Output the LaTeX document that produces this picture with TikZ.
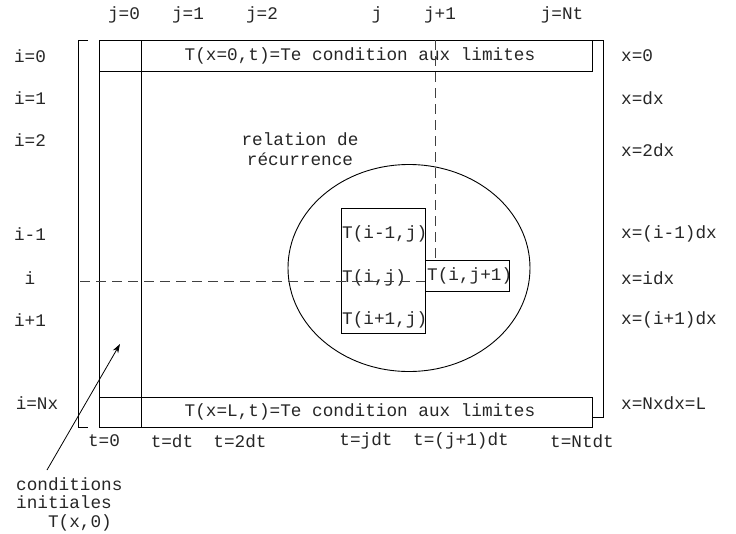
\documentclass[tikz,border=0pt]{standalone}
\usepackage{fontspec}
\setmonofont{Liberation Mono}
\usetikzlibrary{arrows.meta,shapes.geometric}
\begin{document}
\begin{tikzpicture}[x=1pt,y=-1pt,
  lbl/.style={font=\ttfamily\fontsize{17.7}{20.5}\selectfont, inner sep=0pt, text=black!85},
  frame/.style={draw=black, line width=0.9pt},
  cell/.style={frame, inner sep=0pt, anchor=north west},
  guide/.style={draw=black!75, line width=0.9pt, dash pattern=on 10pt off 6pt},
  pointer/.style={draw=black, line width=0.8pt, -{Stealth[length=9pt,width=6pt]}}]
\useasboundingbox (0,0) rectangle (736,533);

% outer brackets of the domain
\draw[frame] (88,40) -- (78,40) -- (78,427) -- (88,427);
\draw[frame] (592,40) -- (603,40) -- (603,417) -- (592,417);

% boundary bands and initial column
\node[cell, minimum width=42pt, minimum height=387pt] (col) at (99,40) {};
\node[cell, minimum width=493pt, minimum height=31pt] (top) at (99,40) {};
\node[cell, minimum width=493pt, minimum height=30pt] (bot) at (99,397) {};
\node[lbl] (toptext) at (360,56) {T(x=0,t)=Te condition aux limites};
\node[lbl] (bottext) at (360,412) {T(x=L,t)=Te condition aux limites};

% recurrence stencil
\node[frame, ellipse, minimum width=242pt, minimum height=207pt, inner sep=0pt] (rec) at (409,268) {};
\node[cell, minimum width=84pt, minimum height=125pt] (stencil) at (341,208) {};
\node[cell, minimum width=84pt, minimum height=31pt] (next) at (425,260) {};
\node[lbl, anchor=west] (tm) at (342,234) {T(i-1,j)};
\node[lbl, anchor=west] (tc) at (342,278) {T(i,j)};
\node[lbl, anchor=west] (tp) at (342,320) {T(i+1,j)};
\node[lbl, anchor=west] (tn) at (427,276) {T(i,j+1)};
\node[lbl, align=center] (rel) at (300,149) {relation de\\récurrence};

% guide lines through the stencil
\coordinate (vtop) at (435,40);
\coordinate (vbot) at (435,260);
\coordinate (hleft) at (80,281);
\coordinate (hright) at (425,281);
\draw[guide] (vtop) -- (vbot);
\draw[guide] (hleft) -- (hright);

% column indices
\node[lbl] (j0) at (124,15) {j=0};
\node[lbl] (j1) at (188,15) {j=1};
\node[lbl] (j2) at (262,15) {j=2};
\node[lbl] (jj) at (377,15) {j};
\node[lbl] (jp) at (440,15) {j+1};
\node[lbl] (jn) at (562,15) {j=Nt};

% row indices
\node[lbl] (i0) at (30,56) {i=0};
\node[lbl] (i1) at (30,98) {i=1};
\node[lbl] (i2) at (30,140) {i=2};
\node[lbl] (im) at (30,234) {i-1};
\node[lbl] (ii) at (30,278) {i};
\node[lbl] (ip) at (30,320) {i+1};
\node[lbl] (in) at (37,403) {i=Nx};

% positions
\node[lbl, anchor=west] (x0) at (621,56) {x=0};
\node[lbl, anchor=west] (x1) at (621,98) {x=dx};
\node[lbl, anchor=west] (x2) at (621,150) {x=2dx};
\node[lbl, anchor=west] (xm) at (621,234) {x=(i-1)dx};
\node[lbl, anchor=west] (xi) at (621,278) {x=idx};
\node[lbl, anchor=west] (xp) at (621,320) {x=(i+1)dx};
\node[lbl, anchor=west] (xn) at (621,403) {x=Nxdx=L};

% times
\node[lbl] (t0) at (104,441) {t=0};
\node[lbl] (t1) at (172,441) {t=dt};
\node[lbl] (t2) at (240,441) {t=2dt};
\node[lbl] (tj) at (366,441) {t=jdt};
\node[lbl] (tjp) at (461,441) {t=(j+1)dt};
\node[lbl] (tN) at (582,441) {t=Ntdt};

% initial conditions
\node[lbl, font=\ttfamily\fontsize{17.7}{18.5}\selectfont, align=left, anchor=north west] (init) at (16,477) {conditions\\initiales\\\ \ \ T(x,0)};
\coordinate (inittip) at (120,344);
\draw[pointer] (init.north -| 47,0) ++(0,-7) -- (inittip);
\end{tikzpicture}
\end{document}
